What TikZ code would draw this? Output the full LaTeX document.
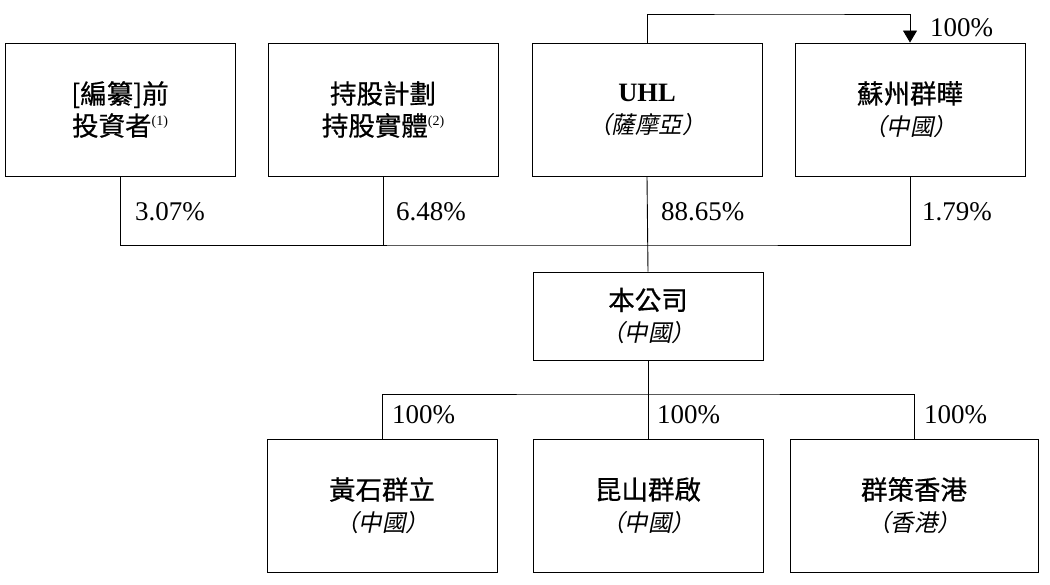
\documentclass[tikz,border=0pt]{standalone}
\usepackage{fontspec}
\setmainfont{Liberation Serif}
\newfontfamily\cjk[FakeBold=0.6]{Noto Sans CJK TC}
\newfontfamily\cjkit[FakeSlant=0.2]{Noto Sans CJK TC}
\usetikzlibrary{arrows.meta}
\usetikzlibrary{positioning}
\tikzset{entity/.style = {draw, line width=0.9pt, minimum width=230pt, minimum height=133pt,
                          align=center, inner sep=0pt, font=\cjk\fontsize{26.5}{32}\selectfont}}
\tikzset{pct/.style = {anchor=west, inner sep=0pt, font=\rmfamily\fontsize{27}{27}\selectfont}}
\tikzset{link/.style = {line width=0.9pt}}
\newcommand{\where}[1]{{\cjkit\fontsize{23.5}{32}\selectfont （#1）}}
\newcommand{\fnote}[1]{\raisebox{10pt}{\rmfamily\fontsize{14}{14}\selectfont(#1)}}

\begin{document}
\begin{tikzpicture}[x=1pt, y=-1pt]
    \useasboundingbox (0, 0) rectangle (1050, 585);
    \node [entity] (pre) at (120, 109.5) {[編纂]前\\投資者\fnote{1}};
    \node [entity] (esop) at (383, 109.5) {持股計劃\\持股實體\fnote{2}};
    \node [entity] (uhl) at (647, 109.5) {{\rmfamily\bfseries UHL}\\\where{薩摩亞}};
    \node [entity] (sz) at (910, 109.5) {蘇州群曄\\\where{中國}};
    \node [entity, minimum height=88pt] (co) at (648, 316) {本公司\\\where{中國}};
    \node [entity] (hs) at (382, 505.5) {黃石群立\\\where{中國}};
    \node [entity] (ks) at (648, 505.5) {昆山群啟\\\where{中國}};
    \node [entity, minimum width=248pt] (qs) at (914, 505.5) {群策香港\\\where{香港}};
    \coordinate (loop) at (780, 14);
    \coordinate (bus) at (648, 245);
    \coordinate (fork) at (648, 394);
    \draw [link, -{Triangle[width=14pt, length=12pt]}] (uhl.north) |- (loop) -| (sz.north);
    \draw [link] (pre.south) |- (bus) -| (sz.south);
    \draw [link] (esop.south) -- (esop.south |- bus);
    \draw [link] (uhl.south) -- (co.north);
    \draw [link] (hs.north) |- (fork) -| (qs.north);
    \draw [link] (co.south) -- (ks.north);
    \node [pct] (top) at (930, 28) {100\%};
    \node [pct] (p1) at (135, 212) {3.07\%};
    \node [pct] (p2) at (396, 212) {6.48\%};
    \node [pct] (p3) at (661, 212) {88.65\%};
    \node [pct] (p4) at (922, 212) {1.79\%};
    \node [pct] (s1) at (392, 415) {100\%};
    \node [pct] (s2) at (657, 415) {100\%};
    \node [pct] (s3) at (924, 415) {100\%};
  \end{tikzpicture}
\end{document}
